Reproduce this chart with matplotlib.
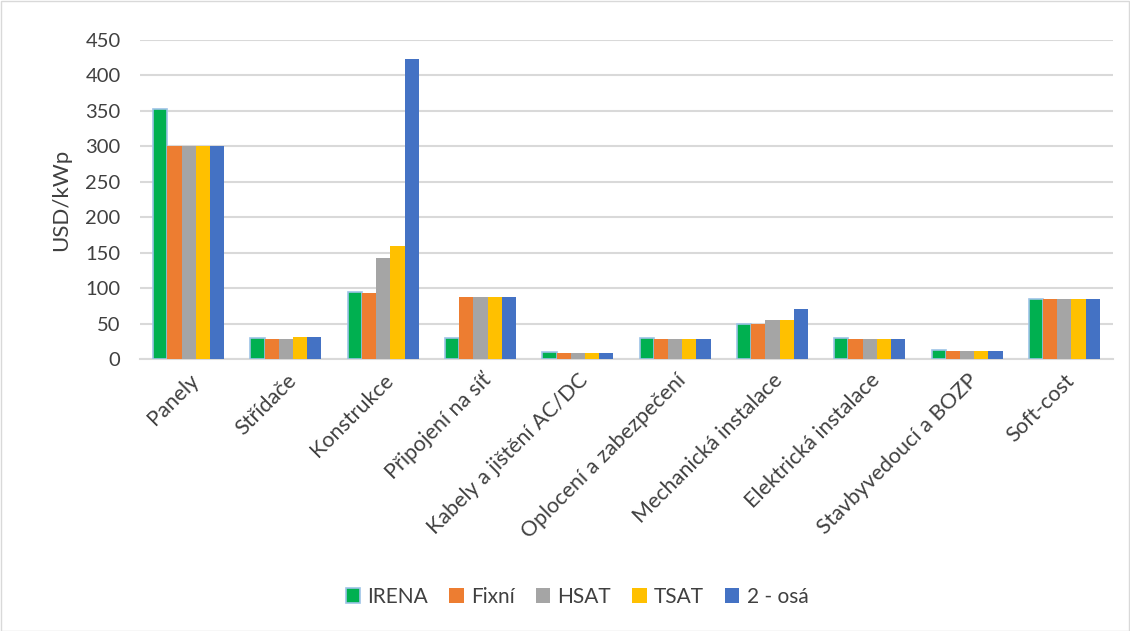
import matplotlib
matplotlib.use("Agg")
import matplotlib.pyplot as plt
import numpy as np
from matplotlib.patches import Rectangle

plt.rcParams['font.family'] = ['Lato', 'DejaVu Sans']

categories = ["Panely", "Střídače", "Konstrukce", "Připojení na síť",
              "Kabely a jištění AC/DC", "Oplocení a zabezpečení",
              "Mechanická instalace", "Elektrická instalace",
              "Stavbyvedoucí a BOZP", "Soft-cost"]
series_names = ["IRENA", "Fixní", "HSAT", "TSAT", "2 - osá"]
irena = [353, 29, 94, 29, 10, 29, 50, 29, 12, 85]
fixni = [300, 28, 93, 87, 9, 28, 49, 28, 11, 85]
hsat = [300, 28, 143, 87, 9, 28, 55, 28, 11, 85]
tsat = [300, 31, 160, 87, 9, 28, 55, 28, 11, 85]
dvouosa = [300, 31, 423, 87, 9, 28, 70, 28, 11, 85]
colors = ["#00B050", "#ED7D31", "#A5A5A5", "#FFC000", "#4472C4"]
yticks = [0, 50, 100, 150, 200, 250, 300, 350, 400, 450]

fig = plt.figure(figsize=(11.3, 6.31), dpi=100)
ax = fig.add_axes([140/1130, 1 - 359/631, (1113-140)/1130, (359-40)/631])

data = [irena, fixni, hsat, tsat, dvouosa]
x = np.arange(len(categories))
bw = 0.146
handles = []
for i, (vals, c) in enumerate(zip(data, colors)):
    off = (i - 2) * bw
    if i == 0:
        h = ax.bar(x + off, vals, bw, color=c, edgecolor="#9DC3E6", linewidth=1.2, zorder=3)
    else:
        h = ax.bar(x + off, vals, bw, color=c, linewidth=0, zorder=3)
    handles.append(h)

ax.set_xlim(-0.5, len(categories) - 0.5)
ax.set_ylim(0, 450)
ax.set_yticks(yticks)
ax.yaxis.grid(True, color="#D9D9D9", linewidth=1.5, zorder=0)
ax.set_axisbelow(True)
for s in ["top", "right", "left"]:
    ax.spines[s].set_visible(False)
ax.spines["bottom"].set_color("#D9D9D9")
ax.spines["bottom"].set_linewidth(1.5)
ax.tick_params(axis="both", length=0, colors="#404040")
ax.tick_params(axis="y", pad=14, labelsize=14.5)
ax.set_xticks(x)
ax.set_xticklabels(categories, rotation=45, ha="right", rotation_mode="anchor",
                   color="#404040", fontsize=15.5)
ax.tick_params(axis="x", pad=8)
ax.set_ylabel("USD/kWp", fontsize=16, color="#404040", labelpad=10)

leg = fig.legend(handles, series_names, loc="center", bbox_to_anchor=(577/1130, 1 - 597/631),
                 ncol=5, frameon=False, fontsize=15, handlelength=0.7, handleheight=0.7,
                 handletextpad=0.35, columnspacing=1.0, labelcolor="#404040")

fig.patches.append(Rectangle((0.5/1130, 0.5/631), 1 - 1.5/1130, 1 - 1.5/631,
                             transform=fig.transFigure, fill=False,
                             edgecolor="#D9D9D9", linewidth=1))

fig.savefig("out.png", dpi=100)
